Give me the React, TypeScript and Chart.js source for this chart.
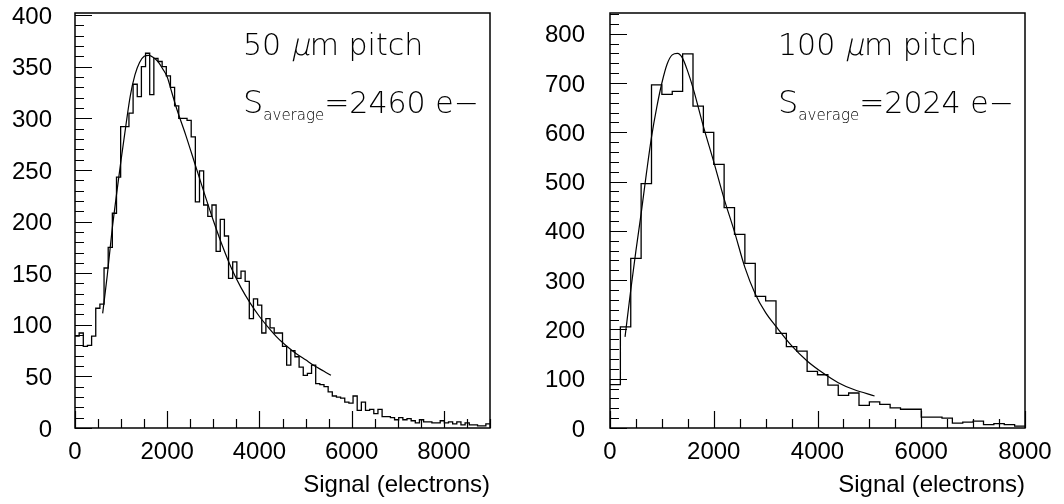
import React, { useEffect, useRef } from 'react';
import { Chart, registerables } from 'chart.js';

Chart.register(...registerables);

// ---------- Left panel: 50 um pitch (100 bins of 90 e-) ----------
const LEFT_BIN_WIDTH = 90;
const LEFT_COUNTS = [
  89, 92, 79, 80, 89, 116, 120, 155, 175, 208,
  243, 292, 292, 305, 333, 321, 350, 363, 323, 358,
  355, 350, 341, 330, 312, 300, 300, 298, 282, 219,
  249, 216, 205, 216, 171, 202, 186, 145, 161, 145,
  152, 142, 106, 125, 119, 92, 106, 97, 92, 92,
  79, 61, 75, 69, 59, 51, 53, 61, 43, 42,
  40, 35, 31, 30, 29, 25, 24, 31, 17, 25,
  17, 18, 14, 18, 11, 11, 10, 8, 10, 8,
  9, 7, 5, 8, 6, 6, 5, 5, 7, 5,
  6, 4, 6, 3, 5, 3, 3, 2, 2, 4,
];
const LEFT_FIT_X = [600, 700, 800, 900, 1000, 1100, 1200, 1300, 1400, 1500, 1600, 1700, 1800, 1900, 2000, 2100, 2200, 2400, 2600, 2800, 3000, 3200, 3400, 3600, 3800, 4000, 4200, 4400, 4600, 4800, 5000, 5200, 5400, 5550];
const LEFT_FIT_Y = [111, 148, 190, 226, 260, 292, 322, 342, 354, 360, 361, 359, 355, 348, 340, 325, 310, 284, 256, 228, 201, 176, 154, 136, 121, 108, 97, 87, 79, 72, 66, 60, 55, 51];
const LEFT_X_MAX = 9000;
const LEFT_Y_MAX = 402;
const LEFT_X_TICKS = [0, 2000, 4000, 6000, 8000];
const LEFT_Y_TICKS = [0, 50, 100, 150, 200, 250, 300, 350, 400];
const LEFT_Y_MAJOR = 50;
const LEFT_Y_MINOR = 10;
const LEFT_TITLE = ['50 ', 'μ', 'm pitch'];
const LEFT_SAVG = '=2460 e−';

// ---------- Right panel: 100 um pitch (40 bins of 200 e-) ----------
const RIGHT_BIN_WIDTH = 200;
const RIGHT_COUNTS = [
  88, 205, 344, 496, 696, 677, 683, 759, 653, 600,
  535, 447, 393, 334, 267, 258, 192, 165, 156, 115,
  108, 87, 66, 71, 46, 53, 48, 41, 38, 38,
  22, 22, 20, 10, 12, 14, 7, 9, 7, 4,
];
const RIGHT_FIT_X = [290, 400, 500, 600, 700, 800, 900, 1000, 1100, 1200, 1300, 1400, 1500, 1600, 1800, 2000, 2200, 2400, 2600, 2800, 3000, 3200, 3500, 3800, 4100, 4400, 4700, 5100];
const RIGHT_FIT_Y = [185, 280, 360, 435, 515, 590, 650, 700, 738, 757, 760, 750, 723, 690, 612, 540, 465, 398, 326, 272, 234, 206, 167, 136, 112, 92, 78, 65];
const RIGHT_X_MAX = 8000;
const RIGHT_Y_MAX = 842;
const RIGHT_X_TICKS = [0, 2000, 4000, 6000, 8000];
const RIGHT_Y_TICKS = [0, 100, 200, 300, 400, 500, 600, 700, 800];
const RIGHT_Y_MAJOR = 100;
const RIGHT_Y_MINOR = 20;
const RIGHT_TITLE = ['100 ', 'μ', 'm pitch'];
const RIGHT_SAVG = '=2024 e−';

// ---------- shared axis settings ----------
const X_MAJOR = 2000;
const X_MINOR = 500;
const X_TITLE = 'Signal (electrons)';
const SUB_TEXT = 'average';

const CANVAS_W = 532;
const CANVAS_H = 504;

const TEXT_FONT = '"DejaVu Sans", sans-serif';

const histPoints = (counts: number[], width: number) => {
  const pts = counts.map((c, i) => ({ x: i * width, y: c }));
  pts.push({ x: counts.length * width, y: counts[counts.length - 1] });
  return pts;
};

const fitPoints = (xs: number[], ys: number[]) => xs.map((x, i) => ({ x, y: ys[i] }));

const framePlugin = {
  id: 'rootFrame',
  afterDatasetsDraw(chart: any, _args: any, opts: any) {
    const { ctx, chartArea: a, scales } = chart;
    const x = scales.x;
    const y = scales.y;
    ctx.save();
    ctx.strokeStyle = '#000';
    ctx.lineWidth = 1.5;
    ctx.strokeRect(a.left, a.top, a.right - a.left, a.bottom - a.top);

    ctx.lineWidth = 1.2;
    ctx.beginPath();
    const nx = Math.round(x.max / opts.xMinor);
    for (let i = 0; i <= nx; i++) {
      const v = i * opts.xMinor;
      const px = Math.round(x.getPixelForValue(v)) + 0.5;
      const len = v % opts.xMajor === 0 ? 17 : 9;
      ctx.moveTo(px, a.bottom);
      ctx.lineTo(px, a.bottom - len);
    }
    const ny = Math.floor(y.max / opts.yMinor);
    for (let i = 0; i <= ny; i++) {
      const v = i * opts.yMinor;
      const py = Math.round(y.getPixelForValue(v)) + 0.5;
      const len = v % opts.yMajor === 0 ? 17 : 9;
      ctx.moveTo(a.left, py);
      ctx.lineTo(a.left + len, py);
    }
    ctx.stroke();

    // annotations
    ctx.fillStyle = '#000';
    ctx.textBaseline = 'alphabetic';
    ctx.textAlign = 'left';
    let tx = a.left + 168;
    const ty1 = a.top + 42;
    const [t0, tmu, t2] = opts.title;
    ctx.font = `200 30px ${TEXT_FONT}`;
    ctx.fillText(t0, tx, ty1);
    tx += ctx.measureText(t0).width;
    ctx.save();
    ctx.translate(tx, ty1);
    ctx.transform(1, 0, -0.22, 1, 0, 0);
    ctx.fillText(tmu, 0, 0);
    ctx.restore();
    tx += ctx.measureText(tmu).width;
    ctx.fillText(t2, tx, ty1);

    let sx = a.left + 168;
    const ty2 = a.top + 100;
    ctx.font = `200 32px ${TEXT_FONT}`;
    ctx.fillText('S', sx, ty2);
    sx += ctx.measureText('S').width;
    ctx.font = `200 15px ${TEXT_FONT}`;
    ctx.fillText(SUB_TEXT, sx, ty2 + 7);
    sx += ctx.measureText(SUB_TEXT).width;
    ctx.font = `200 30px ${TEXT_FONT}`;
    ctx.fillText(opts.savg, sx, ty2);
    ctx.restore();
  },
};

type PanelProps = {
  counts: number[];
  binWidth: number;
  fitX: number[];
  fitY: number[];
  xMax: number;
  yMax: number;
  xTicks: number[];
  yTicks: number[];
  yMajor: number;
  yMinor: number;
  title: string[];
  savg: string;
  areaLeft: number;
  areaRight: number;
  labelPad: number;
};

function Panel(p: PanelProps) {
  const ref = useRef<HTMLCanvasElement | null>(null);
  useEffect(() => {
    if (!ref.current) return;
    const tickFont = { family: '"Liberation Sans", Arial, sans-serif', size: 24 };
    const chart = new Chart(ref.current, {
      type: 'line',
      data: {
        datasets: [
          {
            label: 'histogram',
            data: histPoints(p.counts, p.binWidth),
            stepped: true,
            borderColor: '#000',
            borderWidth: 1.3,
            pointRadius: 0,
            fill: false,
          },
          {
            label: 'fit',
            data: fitPoints(p.fitX, p.fitY),
            cubicInterpolationMode: 'monotone',
            borderColor: '#000',
            borderWidth: 1.2,
            pointRadius: 0,
            fill: false,
          },
        ],
      },
      options: {
        responsive: false,
        animation: false,
        devicePixelRatio: 1,
        layout: { padding: { left: 0, top: 13, right: CANVAS_W - p.areaRight, bottom: 0 } },
        plugins: {
          legend: { display: false },
          tooltip: { enabled: false },
          rootFrame: {
            xMinor: X_MINOR,
            xMajor: X_MAJOR,
            yMinor: p.yMinor,
            yMajor: p.yMajor,
            title: p.title,
            savg: p.savg,
          },
        } as any,
        scales: {
          x: {
            type: 'linear',
            min: 0,
            max: p.xMax,
            border: { display: false },
            grid: { display: false, drawTicks: false },
            afterBuildTicks: (s: any) => {
              s.ticks = p.xTicks.map((v) => ({ value: v }));
            },
            ticks: {
              autoSkip: false,
              maxRotation: 0,
              color: '#000',
              font: tickFont,
              padding: 10,
              callback: (v: any) => String(v),
            },
            title: {
              display: true,
              text: X_TITLE,
              align: 'end',
              color: '#000',
              font: tickFont,
              padding: { top: 0, bottom: 4 },
            },
            afterFit: (s: any) => {
              s.height = CANVAS_H - 428;
              s.paddingLeft = 0;
              s.paddingRight = 0;
            },
          },
          y: {
            type: 'linear',
            min: 0,
            max: p.yMax,
            border: { display: false },
            grid: { display: false, drawTicks: false },
            afterBuildTicks: (s: any) => {
              s.ticks = p.yTicks.map((v) => ({ value: v }));
            },
            ticks: {
              autoSkip: false,
              color: '#000',
              font: tickFont,
              padding: p.labelPad,
              labelOffset: 2,
              callback: (v: any) => String(v),
            },
            afterFit: (s: any) => {
              s.width = p.areaLeft;
              s.paddingTop = 0;
              s.paddingBottom = 0;
            },
          },
        },
      } as any,
      plugins: [framePlugin],
    });
    return () => chart.destroy();
  }, []);
  return <canvas ref={ref} width={CANVAS_W} height={CANVAS_H} style={{ width: CANVAS_W, height: CANVAS_H, display: 'block' }} />;
}

export default function App() {
  return (
    <div style={{ position: 'absolute', left: 0, top: 0, width: 1064, height: 504, display: 'flex', background: '#fff' }}>
      <Panel
        counts={LEFT_COUNTS}
        binWidth={LEFT_BIN_WIDTH}
        fitX={LEFT_FIT_X}
        fitY={LEFT_FIT_Y}
        xMax={LEFT_X_MAX}
        yMax={LEFT_Y_MAX}
        xTicks={LEFT_X_TICKS}
        yTicks={LEFT_Y_TICKS}
        yMajor={LEFT_Y_MAJOR}
        yMinor={LEFT_Y_MINOR}
        title={LEFT_TITLE}
        savg={LEFT_SAVG}
        areaLeft={75}
        areaRight={490}
        labelPad={23}
      />
      <Panel
        counts={RIGHT_COUNTS}
        binWidth={RIGHT_BIN_WIDTH}
        fitX={RIGHT_FIT_X}
        fitY={RIGHT_FIT_Y}
        xMax={RIGHT_X_MAX}
        yMax={RIGHT_Y_MAX}
        xTicks={RIGHT_X_TICKS}
        yTicks={RIGHT_Y_TICKS}
        yMajor={RIGHT_Y_MAJOR}
        yMinor={RIGHT_Y_MINOR}
        title={RIGHT_TITLE}
        savg={RIGHT_SAVG}
        areaLeft={78}
        areaRight={493}
        labelPad={25}
      />
    </div>
  );
}
